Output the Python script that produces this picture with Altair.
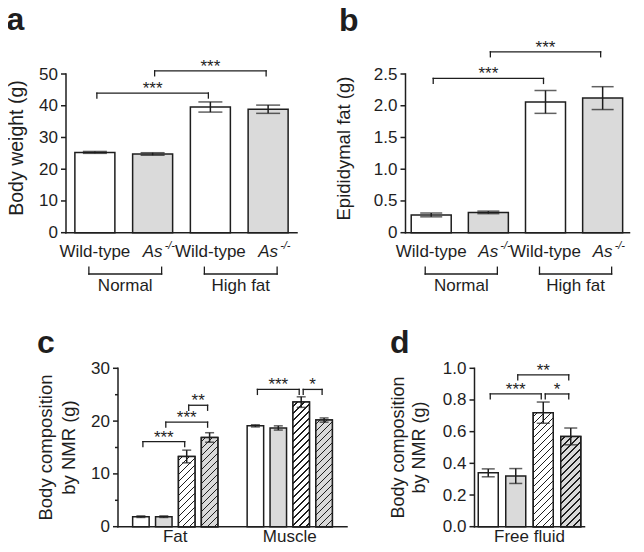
import altair as alt
import pandas as pd

FONT = "Liberation Sans"
INK = "#1e1e1e"
GRAY = "#dadada"
W, H = 628, 536

# ---------------- data ----------------
positions = [1, 2, 3, 4]
genotype = ["Wild-type", "As", "Wild-type", "As"]
knockout = [0, 1, 0, 1]
diet_groups = ["Normal", "High fat"]
diet_start = [1, 3]
diet_end = [2, 4]

weight_title = ["Body weight (g)"]
weight_ticks = [0, 10, 20, 30, 40, 50]
weight_tick_labels = ["0", "10", "20", "30", "40", "50"]
weight_mean = [25.3, 24.8, 39.6, 38.9]
weight_sem = [0.3, 0.4, 1.6, 1.3]
weight_sig_start = [1, 2]
weight_sig_end = [3, 4]
weight_sig_level = [44.0, 51.0]
weight_sig_label = ["***", "***"]

epi_title = ["Epididymal fat (g)"]
epi_ticks = [0, 0.5, 1.0, 1.5, 2.0, 2.5]
epi_tick_labels = ["0", "0.5", "1.0", "1.5", "2.0", "2.5"]
epi_mean = [0.28, 0.32, 2.06, 2.12]
epi_sem = [0.03, 0.02, 0.18, 0.18]
epi_sig_start = [1, 2]
epi_sig_end = [3, 4]
epi_sig_level = [2.43, 2.85]
epi_sig_label = ["***", "***"]

nmr_title = ["Body composition", "by NMR (g)"]
nmr_ticks = [0, 10, 20, 30]
nmr_tick_labels = ["0", "10", "20", "30"]
nmr_minor_ticks = [5, 15, 25]
nmr_pos = [1, 2, 3, 4, 6, 7, 8, 9]
nmr_knockout = [0, 1, 0, 1, 0, 1, 0, 1]
nmr_highfat = [0, 0, 1, 1, 0, 0, 1, 1]
nmr_mean = [1.9, 1.9, 13.3, 16.9, 19.1, 18.7, 23.6, 20.2]
nmr_sem = [0.15, 0.15, 1.2, 0.9, 0.2, 0.4, 1.0, 0.4]
nmr_groups = ["Fat", "Muscle"]
nmr_group_pos = [2.5, 7.5]
nmr_sig_start = [1, 2, 3, 6, 8]
nmr_sig_end = [3, 4, 4, 8, 9]
nmr_sig_level = [16.1, 19.8, 23.0, 26.0, 26.0]
nmr_sig_label = ["***", "***", "**", "***", "*"]

fluid_title = ["Body composition", "by NMR (g)"]
fluid_ticks = [0, 0.2, 0.4, 0.6, 0.8, 1.0]
fluid_tick_labels = ["0.0", "0.2", "0.4", "0.6", "0.8", "1.0"]
fluid_pos = [1, 2, 3, 4]
fluid_knockout = [0, 1, 0, 1]
fluid_highfat = [0, 0, 1, 1]
fluid_mean = [0.34, 0.32, 0.72, 0.57]
fluid_sem = [0.025, 0.047, 0.067, 0.053]
fluid_groups = ["Free fluid"]
fluid_group_pos = [2.5]
fluid_sig_start = [1, 2, 3]
fluid_sig_end = [3, 4, 4]
fluid_sig_level = [0.838, 0.958, 0.838]
fluid_sig_label = ["***", "**", "*"]

# ---------------- layout (page pixels) ----------------
PA = dict(x0=61, x1=302, xdom=[0.5, 4.5], y0=232.7, ytop=74, ydom=[0, 50])
PB = dict(x0=400.5, x1=634.5, xdom=[0.55, 4.47], y0=232.7, ytop=74, ydom=[0, 2.5])
PC = dict(x0=113, x1=352, xdom=[0, 10], y0=526.7, ytop=368.3, ydom=[0, 30])
PD = dict(x0=469.5, x1=589.5, xdom=[0.5, 4.5], y0=526.7, ytop=368.3, ydom=[0, 1])

TXT = dict(font=FONT, color=INK)
LINE = dict(color=INK, strokeWidth=1.5)


def scales(P):
    xs = alt.Scale(domain=P["xdom"], range=[P["x0"] - 8, P["x1"] - 8], nice=False, zero=False)
    ys = alt.Scale(domain=P["ydom"], range=[P["y0"] - 8, P["ytop"] - 8], nice=False, zero=False)
    return xs, ys


def hatch_fill(w, h, base, period=7.0, lw=1.6):
    L = w + h
    c = (1 / h + 1 / w) / (1 / h ** 2 + 1 / w ** 2)
    stops = [{"offset": 0, "color": base}]
    t = period * 0.6
    while t < L:
        a = max(0.0, (t - lw / 2) / L)
        b = min(1.0, (t + lw / 2) / L)
        stops += [{"offset": a, "color": base}, {"offset": a, "color": INK},
                  {"offset": b, "color": INK}, {"offset": b, "color": base}]
        t += period
    stops.append({"offset": 1, "color": base})
    return {"gradient": "linear", "x1": 0, "y1": 0, "x2": c / h, "y2": c / w, "stops": stops}


def axes(P, X, Y, ticks, tick_labels, minor=None):
    frame = alt.Chart(pd.DataFrame({"k": [0]})).transform_calculate(
        xa=str(P["xdom"][0]), xb=str(P["xdom"][1]), ya=str(P["ydom"][0]), yb=str(P["ydom"][1]))
    out = [
        frame.mark_rule(strokeCap="square", **LINE).encode(x=X("xa:Q"), y=Y("ya:Q"), y2="yb:Q"),
        frame.mark_rule(strokeCap="square", **LINE).encode(x=X("xa:Q"), x2="xb:Q", y=Y("ya:Q")),
    ]
    tdf = pd.DataFrame({"v": ticks, "lab": tick_labels})
    tb = alt.Chart(tdf).transform_calculate(xa=str(P["xdom"][0]))
    out.append(tb.mark_rule(xOffset=-5, **LINE).encode(x=X("xa:Q"), x2="xa:Q", y=Y("v:Q")))
    out.append(tb.mark_text(fontSize=17, align="right", baseline="middle", xOffset=-8, dy=0.5, **TXT).encode(
        x=X("xa:Q"), y=Y("v:Q"), text="lab:N"))
    if minor:
        mb = alt.Chart(pd.DataFrame({"v": minor})).transform_calculate(xa=str(P["xdom"][0]))
        out.append(mb.mark_rule(xOffset=-3, **LINE).encode(x=X("xa:Q"), x2="xa:Q", y=Y("v:Q")))
    return out


def title(lines, size, xs_px, yc):
    out = []
    for ln, xb in zip(lines, xs_px):
        out.append(alt.Chart(pd.DataFrame({"t": [ln]})).mark_text(
            fontSize=size, angle=270, align="center", baseline="alphabetic", **TXT).encode(
            text="t:N", x=alt.value(xb - 8), y=alt.value(yc - 8)))
    return out


def panel(P, pos, ko, hf, mean, sem, bw, capw, sig):
    xs, ys = scales(P)
    X = lambda f: alt.X(f, scale=xs, axis=None)
    Y = lambda f: alt.Y(f, scale=ys, axis=None)
    df = pd.DataFrame({"pos": pos, "ko": ko, "hf": hf, "mean": mean, "sem": sem,
                       "idx": list(range(len(pos)))})
    base = alt.Chart(df).transform_calculate(
        zero="0", lo="datum.mean - datum.sem", hi="datum.mean + datum.sem",
        fillc=f"datum.ko == 1 ? '{GRAY}' : 'white'")
    layers = []
    layers.append(base.mark_bar(orient="vertical", size=bw, stroke=INK, strokeWidth=1.5).encode(
        x=X("pos:Q"), y=Y("mean:Q"), y2="zero:Q", fill=alt.Fill("fillc:N", scale=None)))
    pxu = (P["y0"] - P["ytop"]) / P["ydom"][1]
    for i in range(len(pos)):
        if hf[i]:
            g = hatch_fill(bw, mean[i] * pxu, GRAY if ko[i] else "white")
            layers.append(base.transform_filter(alt.datum.idx == i).mark_bar(
                orient="vertical", size=bw, stroke=INK, strokeWidth=1.5, fill=g).encode(
                x=X("pos:Q"), y=Y("mean:Q"), y2="zero:Q"))
    layers.append(base.mark_rule(**LINE).encode(x=X("pos:Q"), y=Y("lo:Q"), y2="hi:Q"))
    layers.append(base.transform_fold(["lo", "hi"], as_=["end", "v"]).mark_tick(
        orient="horizontal", size=capw, thickness=1.5, color=INK).encode(x=X("pos:Q"), y=Y("v:Q")))
    sdf = pd.DataFrame({"start": sig[0], "end": sig[1], "level": sig[2], "label": sig[3]})
    sb = alt.Chart(sdf).transform_calculate(mid="(datum.start + datum.end) / 2")
    rk = dict(color=INK, strokeWidth=1.3, strokeCap="square")
    layers.append(sb.mark_rule(xOffset=2, x2Offset=-2, **rk).encode(
        x=X("start:Q"), x2="end:Q", y=Y("level:Q")))
    layers.append(sb.mark_rule(xOffset=2, y2Offset=5, **rk).encode(
        x=X("start:Q"), y=Y("level:Q"), y2="level:Q"))
    layers.append(sb.mark_rule(xOffset=-2, y2Offset=5, **rk).encode(
        x=X("end:Q"), y=Y("level:Q"), y2="level:Q"))
    layers.append(sb.mark_text(fontSize=17, dy=1, align="center", baseline="alphabetic", **TXT).encode(
        x=X("mid:Q"), y=Y("level:Q"), text="label:N"))
    return layers, X, Y


def genotype_labels(X, Y):
    df = pd.DataFrame({"pos": positions, "label": genotype, "ko": knockout})
    b = alt.Chart(df).transform_calculate(zero="0", sup="'-/-'")
    wt = b.transform_filter(alt.datum.ko == 0).mark_text(
        fontSize=17, align="center", baseline="alphabetic", dy=24, **TXT).encode(
        x=X("pos:Q"), y=Y("zero:Q"), text="label:N")
    ko = b.transform_filter(alt.datum.ko == 1).mark_text(
        fontSize=17, fontStyle="italic", align="left", baseline="alphabetic", dx=-10, dy=24, **TXT).encode(
        x=X("pos:Q"), y=Y("zero:Q"), text="label:N")
    sup = b.transform_filter(alt.datum.ko == 1).mark_text(
        fontSize=11, fontStyle="italic", align="left", baseline="alphabetic", dx=12, dy=16, **TXT).encode(
        x=X("pos:Q"), y=Y("zero:Q"), text="sup:N")
    gdf = pd.DataFrame({"g": diet_groups, "gs": diet_start, "ge": diet_end})
    gb = alt.Chart(gdf).transform_calculate(zero="0", gm="(datum.gs + datum.ge) / 2")
    rk = dict(color=INK, strokeWidth=1.3, strokeCap="square")
    gl = gb.mark_rule(xOffset=-6, x2Offset=9, yOffset=41.3, **rk).encode(
        x=X("gs:Q"), x2="ge:Q", y=Y("zero:Q"))
    gt1 = gb.mark_rule(xOffset=-6, yOffset=41.3, y2Offset=34.5, **rk).encode(
        x=X("gs:Q"), y=Y("zero:Q"), y2="zero:Q")
    gt2 = gb.mark_rule(xOffset=9, yOffset=41.3, y2Offset=34.5, **rk).encode(
        x=X("ge:Q"), y=Y("zero:Q"), y2="zero:Q")
    gtxt = gb.mark_text(fontSize=17, align="center", baseline="alphabetic", dx=1.5, dy=58, **TXT).encode(
        x=X("gm:Q"), y=Y("zero:Q"), text="g:N")
    return [wt, ko, sup, gl, gt1, gt2, gtxt]


def group_labels(X, Y, names, gpos):
    df = pd.DataFrame({"g": names, "gp": gpos})
    return [alt.Chart(df).transform_calculate(zero="0").mark_text(
        fontSize=17, align="center", baseline="alphabetic", dy=15.5, **TXT).encode(
        x=X("gp:Q"), y=Y("zero:Q"), text="g:N")]


def letter(ch, x, y):
    return alt.Chart(pd.DataFrame({"t": [ch]})).mark_text(
        fontSize=32, fontWeight="bold", align="left", baseline="alphabetic", **TXT).encode(
        text="t:N", x=alt.value(x - 8), y=alt.value(y - 8))


# panel a
la, Xa, Ya = panel(PA, positions, knockout, [0, 0, 0, 0], weight_mean, weight_sem, 40, 24,
                   (weight_sig_start, weight_sig_end, weight_sig_level, weight_sig_label))
la = axes(PA, Xa, Ya, weight_ticks, weight_tick_labels) + la
la += genotype_labels(Xa, Ya)
la += title(weight_title, 19.5, [22.5], 148)
la.append(letter("a", 6.5, 30))

# panel b
lb, Xb, Yb = panel(PB, positions, knockout, [0, 0, 0, 0], epi_mean, epi_sem, 40, 22,
                   (epi_sig_start, epi_sig_end, epi_sig_level, epi_sig_label))
lb = axes(PB, Xb, Yb, epi_ticks, epi_tick_labels) + lb
lb += genotype_labels(Xb, Yb)
lb += title(epi_title, 18.5, [350], 148.5)
lb.append(letter("b", 339, 31))

# panel c
lc, Xc, Yc = panel(PC, nmr_pos, nmr_knockout, nmr_highfat, nmr_mean, nmr_sem, 16.5, 9,
                   (nmr_sig_start, nmr_sig_end, nmr_sig_level, nmr_sig_label))
lc = axes(PC, Xc, Yc, nmr_ticks, nmr_tick_labels, nmr_minor_ticks) + lc
lc += group_labels(Xc, Yc, nmr_groups, nmr_group_pos)
lc += title(nmr_title, 18.5, [51.5, 74.5], 447.5)
lc.append(letter("c", 37, 353))

# panel d
ld, Xd, Yd = panel(PD, fluid_pos, fluid_knockout, fluid_highfat, fluid_mean, fluid_sem, 20, 13,
                   (fluid_sig_start, fluid_sig_end, fluid_sig_level, fluid_sig_label))
ld = axes(PD, Xd, Yd, fluid_ticks, fluid_tick_labels) + ld
ld += group_labels(Xd, Yd, fluid_groups, fluid_group_pos)
ld += title(fluid_title, 18, [403.5, 425], 447.5)
ld.append(letter("d", 390, 353))

chart = alt.layer(
    alt.layer(*la), alt.layer(*lb), alt.layer(*lc), alt.layer(*ld)
).resolve_scale(x="independent", y="independent").properties(
    width=W, height=H, autosize=alt.AutoSizeParams(type="none"), padding=0, background="white"
).configure_view(stroke=None)

chart.save("out.html", embed_options={"renderer": "svg", "actions": False})
